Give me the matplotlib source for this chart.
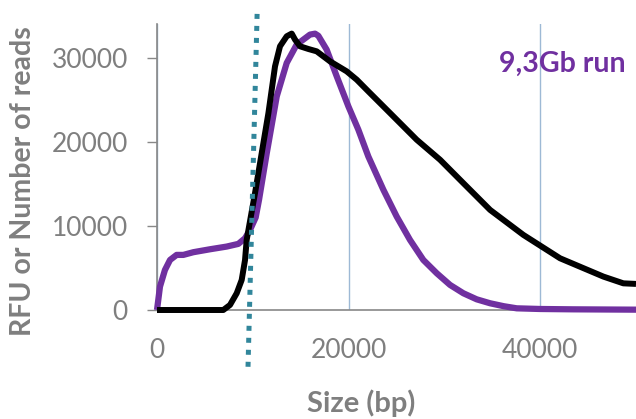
import matplotlib
matplotlib.use("Agg")
import matplotlib.pyplot as plt

plt.rcParams['font.family'] = ['Lato', 'DejaVu Sans']

# Fragment size distribution (RFU), purple
frag_x = [0, 310, 830, 1360, 2050, 2750, 3790, 5530, 7270, 8490, 9190, 9710,
          10300, 10650, 11450, 12500, 13540, 14580, 15970, 16500, 16840,
          17710, 18760, 19980, 21020, 22060, 23630, 25020, 26410, 27800,
          29200, 30590, 31980, 33370, 34770, 36200, 37550, 40000, 43430, 50000]
frag_y = [0, 2780, 4760, 5950, 6550, 6550, 6870, 7220, 7540, 7860, 8530, 9520,
          11000, 13100, 18600, 25400, 29370, 31550, 32740, 32850, 32600,
          30950, 27780, 24200, 21430, 18250, 14290, 11110, 8330, 5950,
          4370, 2980, 1990, 1270, 800, 450, 200, 120, 80, 40]

# Read length distribution (number of reads), black
reads_x = [0, 3000, 6920, 7620, 8320, 8840, 9190, 9360, 10230, 10930, 11630,
           12320, 12840, 13540, 14060, 14410, 14930, 15800, 16670, 18060,
           19800, 20850, 22060, 24330, 27110, 29550, 31980, 34770, 38240,
           42070, 46600, 48680, 50000]
reads_y = [0, 0, 0, 600, 1990, 3570, 5950, 8330, 13890, 18650, 23410,
           28970, 31350, 32540, 32860, 32140, 31350, 31030, 30750, 29560,
           28370, 27380, 25990, 23410, 20240, 17860, 15080, 11900, 8930,
           6150, 3970, 3170, 3100]

# Size selection cutoff (dotted)
cut_x = [10450, 9500]
cut_y = [35200, -6800]

x_ticks = [0, 20000, 40000]
y_ticks = [0, 10000, 20000, 30000]

gray = '#7f7f7f'
fig = plt.figure(figsize=(6.36, 4.19), dpi=100)
ax = fig.add_axes([157/636, 1-310/419, 479/636, 286/419])

ax.plot(frag_x, frag_y, color='#7030a0', lw=4.5, clip_on=False,
        solid_joinstyle='round', solid_capstyle='butt', zorder=3)
ax.plot(reads_x, reads_y, color='black', lw=4.3, clip_on=False,
        solid_joinstyle='round', solid_capstyle='butt', zorder=4)
ax.plot(cut_x, cut_y, color='#31869b', lw=3.6, linestyle=(0, (1, 1.4)),
        dash_capstyle='butt', clip_on=False, zorder=5)

ax.set_xlim(0, 50000)
ax.set_ylim(0, 34000)
ax.set_xticks(x_ticks)
ax.set_yticks(y_ticks)
ax.xaxis.grid(True, color='#9db9d5', lw=1)
ax.set_axisbelow(True)

for s in ['top', 'right']:
    ax.spines[s].set_visible(False)
for s in ['left', 'bottom']:
    ax.spines[s].set_color('#888888')
    ax.spines[s].set_linewidth(1.2)

ax.tick_params(axis='y', length=7, width=1, color='#888888', pad=14,
               labelsize=19, labelcolor=gray)
ax.tick_params(axis='x', length=0, pad=20, labelsize=19, labelcolor=gray)

fig.text(23/636, 1-181.5/419, 'RFU or Number of reads', rotation=90,
         ha='center', va='center', fontsize=20.5, fontweight='bold', color=gray)
fig.text(361.5/636, 1-403/419, 'Size (bp)', ha='center', va='center',
         fontsize=21, fontweight='bold', color=gray)
fig.text(562.5/636, 1-64/419, '9,3Gb run', ha='center', va='center',
         fontsize=20.5, fontweight='bold', color='#7030a0')

fig.savefig('out.png', dpi=100)
